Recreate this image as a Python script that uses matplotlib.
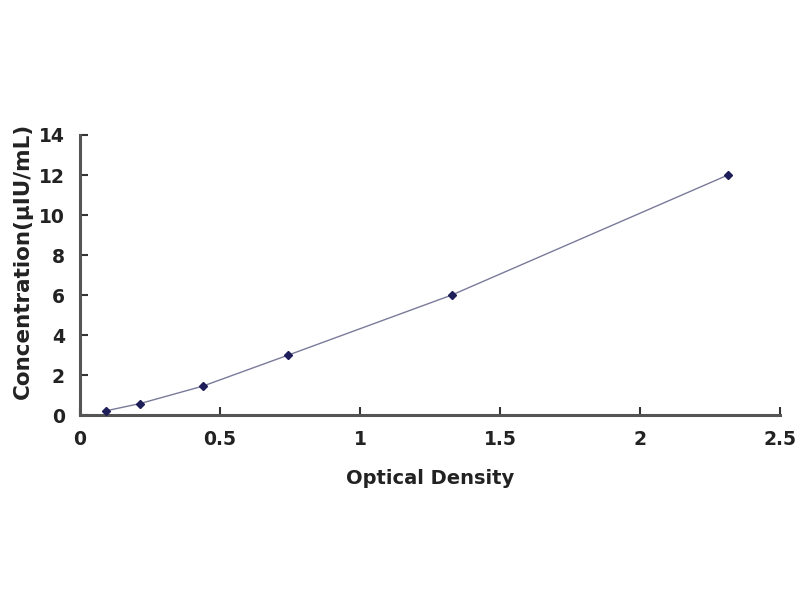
import matplotlib
matplotlib.use("Agg")
import matplotlib.pyplot as plt

od = [0.093, 0.214, 0.438, 0.743, 1.327, 2.314]
conc = [0.22, 0.58, 1.45, 3.0, 6.0, 12.0]
xticks = [0, 0.5, 1, 1.5, 2, 2.5]
xticklabels = ["0", "0.5", "1", "1.5", "2", "2.5"]
yticks = [0, 2, 4, 6, 8, 10, 12, 14]

plt.rcParams['font.family'] = ['DejaVu Sans']

fig = plt.figure(figsize=(8, 6), dpi=100)
ax = fig.add_axes([0.1, 0.308, 0.875, 0.467])

ax.plot(od, conc, color="#7a7a9a", linewidth=1.0, zorder=2)
ax.plot(od, conc, linestyle="none", marker="D", markersize=4.5,
        color="#1e1e5a", zorder=3)

ax.set_xlim(0, 2.5)
ax.set_ylim(0, 14)
ax.set_xticks(xticks)
ax.set_xticklabels(xticklabels)
ax.set_yticks(yticks)

for s in ["top", "right"]:
    ax.spines[s].set_visible(False)
for s in ["left", "bottom"]:
    ax.spines[s].set_color("#555555")
    ax.spines[s].set_linewidth(2.2)

ax.tick_params(axis="both", direction="in", length=6, width=1.5,
               color="#333333", labelsize=13.5, labelcolor="#222222")
ax.tick_params(axis="x", pad=11)
ax.tick_params(axis="y", pad=11)
for lbl in ax.get_xticklabels() + ax.get_yticklabels():
    lbl.set_fontweight("bold")

ax.set_xlabel("Optical Density", fontsize=14, fontweight="bold",
              color="#222222", labelpad=14)
ax.set_ylabel("Concentration(μIU/mL)", fontsize=15.5, fontweight="bold",
              color="#222222")
ax.yaxis.set_label_coords(-0.068, 0.55)

fig.savefig("out.png", dpi=100, facecolor="white")
